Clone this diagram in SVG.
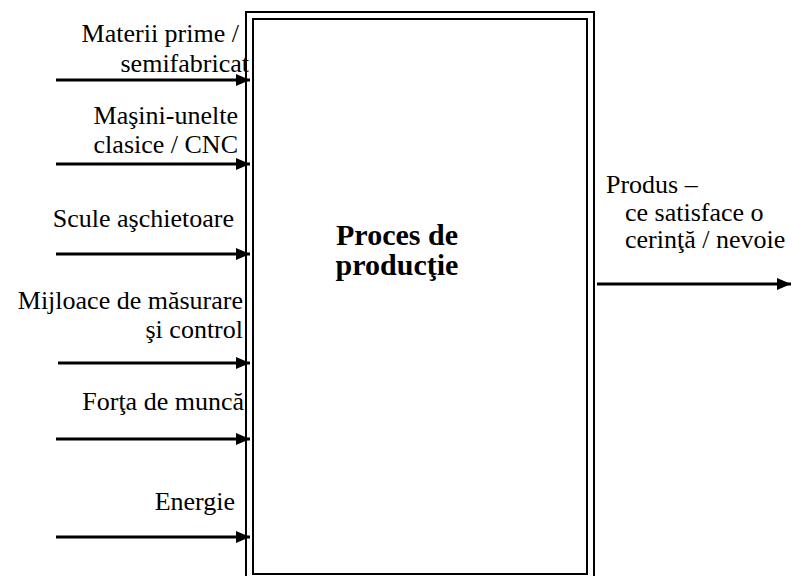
<svg xmlns="http://www.w3.org/2000/svg" width="792" height="576" viewBox="0 0 792 576">
<defs>
<marker id="ah" markerWidth="14" markerHeight="14" viewBox="0 0 14 14" refX="14" refY="7" orient="auto" markerUnits="userSpaceOnUse">
<path d="M0,1 L14,7 L0,13 Z" fill="#000"/>
</marker>
<style>
.lbl{font-family:"Liberation Serif","Times New Roman",serif;font-size:26px;fill:#000}
.r{text-anchor:end}
.title{font-family:"Liberation Serif","Times New Roman",serif;font-size:30px;font-weight:bold;text-anchor:middle;fill:#000}
.box{fill:none;stroke:#000;stroke-width:2}
.arr{stroke:#000;stroke-width:3;fill:none;marker-end:url(#ah)}
</style>
</defs>
<rect width="792" height="576" fill="#fff"/>
<g id="process">
<rect class="box" x="246" y="12" width="348" height="570"/>
<rect class="box" x="253" y="19" width="334" height="555"/>
<text class="title" x="397" y="245">Proces de</text>
<text class="title" x="397" y="275">producţie</text>
</g>
<g id="connectors">
<line class="arr" x1="56" y1="80" x2="250" y2="80"/>
<line class="arr" x1="56" y1="164" x2="250" y2="164"/>
<line class="arr" x1="56" y1="254" x2="250" y2="254"/>
<line class="arr" x1="58" y1="363" x2="250" y2="363"/>
<line class="arr" x1="56" y1="439" x2="250" y2="439"/>
<line class="arr" x1="56" y1="537" x2="250" y2="537"/>
<line class="arr" x1="597" y1="284" x2="791" y2="284"/>
</g>
<g id="in-materii">
<text class="lbl r" x="239" y="42">Materii prime /</text>
<text class="lbl r" x="249" y="72">semifabricat</text>
</g>
<g id="in-masini">
<text class="lbl r" x="238" y="124">Maşini-unelte</text>
<text class="lbl r" x="238" y="153">clasice / CNC</text>
</g>
<g id="in-scule">
<text class="lbl r" x="234" y="227">Scule aşchietoare</text>
</g>
<g id="in-mijloace">
<text class="lbl r" x="243" y="309">Mijloace de măsurare</text>
<text class="lbl r" x="243" y="338">şi control</text>
</g>
<g id="in-forta">
<text class="lbl r" x="244" y="410">Forţa de muncă</text>
</g>
<g id="in-energie">
<text class="lbl r" x="235" y="510">Energie</text>
</g>
<g id="out-produs">
<text class="lbl" x="606" y="193">Produs –</text>
<text class="lbl" x="625" y="221">ce satisface o</text>
<text class="lbl" x="625" y="248">cerinţă / nevoie</text>
</g>
</svg>
